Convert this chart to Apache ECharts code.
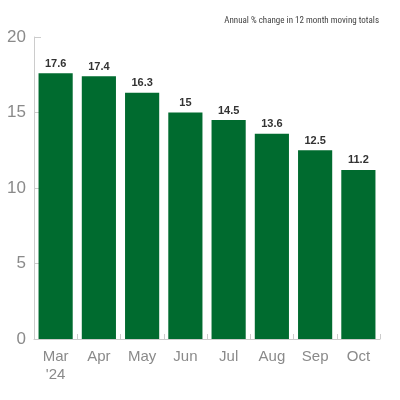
<!DOCTYPE html>
<html>
<head>
<meta charset="utf-8">
<script src="https://cdn.jsdelivr.net/npm/echarts@6/dist/echarts.min.js"></script>
<style>
  html, body { margin: 0; padding: 0; background: #fff; }
  #chart { width: 400px; height: 400px; }
</style>
</head>
<body>
<div id="chart"></div>
<script>
// values
const months = ['Mar\n\'24', 'Apr', 'May', 'Jun', 'Jul', 'Aug', 'Sep', 'Oct'];
const changePct = [17.6, 17.4, 16.3, 15, 14.5, 13.6, 12.5, 11.2];
const yTicks = [0, 5, 10, 15, 20];

const chart = echarts.init(document.getElementById('chart'));

chart.setOption({
  animation: false,
  title: {
    text: 'Annual % change in 12 month moving totals',
    right: 16,
    top: 11,
    textStyle: {
      fontFamily: 'Liberation Sans Narrow, Roboto Condensed, sans-serif',
      fontSize: 9,
      fontWeight: 'normal',
      color: '#444'
    }
  },
  grid: { left: 34, right: 20, top: 37, bottom: 61 },
  xAxis: {
    type: 'category',
    data: months,
    axisLine: { lineStyle: { color: '#ccc' } },
    axisTick: { show: true, inside: true, length: 5, lineStyle: { color: '#ccc' } },
    axisLabel: {
      color: '#8a8a8a',
      fontSize: 15,
      fontFamily: 'Liberation Sans, sans-serif',
      margin: 9,
      lineHeight: 18
    }
  },
  yAxis: {
    type: 'value',
    min: yTicks[0],
    max: yTicks[yTicks.length - 1],
    interval: 5,
    axisLine: { show: true, lineStyle: { color: '#ccc' } },
    axisTick: { show: true, inside: true, length: 7, lineStyle: { color: '#ccc' } },
    splitLine: { show: false },
    axisLabel: {
      color: '#8a8a8a',
      fontSize: 17,
      fontFamily: 'Liberation Sans, sans-serif',
      margin: 8
    }
  },
  series: [{
    type: 'bar',
    data: changePct,
    barCategoryGap: '21%',
    itemStyle: { color: '#006B2F' },
    label: {
      show: true,
      position: 'top',
      distance: 4,
      color: '#333',
      fontSize: 11,
      fontWeight: 'bold',
      fontFamily: 'Liberation Sans Narrow, sans-serif'
    }
  }]
});
</script>
</body>
</html>
